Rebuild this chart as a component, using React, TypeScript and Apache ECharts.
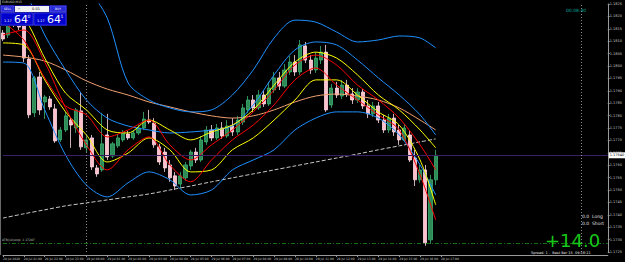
import { useEffect, useRef } from 'react';
import * as echarts from 'echarts';

const symbolTitle = 'EURUSD,M15';
const timeLabels = [
  '28 Jul 2020', '28 Jul 21:00', '28 Jul 22:00', '28 Jul 23:00', '29 Jul 00:00', '29 Jul 01:00',
  '29 Jul 02:00', '29 Jul 03:00', '29 Jul 04:00', '29 Jul 05:00', '29 Jul 06:00', '29 Jul 07:00',
  '29 Jul 08:00', '29 Jul 09:00', '29 Jul 10:00', '29 Jul 11:00', '29 Jul 12:00', '29 Jul 13:00',
  '29 Jul 14:00', '29 Jul 15:00', '29 Jul 16:00', '29 Jul 17:00',
];
const yMin = 1.1725;
const yMax = 1.1825;
const yStep = 0.0005;

// [open, close, low, high]
const candles: number[][] = [
  [1.18133, 1.18109, 1.18101, 1.18145],
  [1.18125, 1.18185, 1.18113, 1.18206],
  [1.18185, 1.18169, 1.18157, 1.18210],
  [1.18165, 1.18157, 1.18145, 1.18185],
  [1.18177, 1.18032, 1.18016, 1.18193],
  [1.18028, 1.17803, 1.17790, 1.18044],
  [1.17811, 1.17952, 1.17794, 1.17960],
  [1.17956, 1.17823, 1.17803, 1.17976],
  [1.17855, 1.17875, 1.17786, 1.17883],
  [1.17867, 1.17835, 1.17823, 1.17879],
  [1.17827, 1.17698, 1.17690, 1.17847],
  [1.17702, 1.17742, 1.17694, 1.17754],
  [1.17742, 1.17799, 1.17734, 1.17815],
  [1.17782, 1.17762, 1.17670, 1.17794],
  [1.17750, 1.17823, 1.17730, 1.17831],
  [1.17819, 1.17674, 1.17662, 1.17895],
  [1.17670, 1.17702, 1.17653, 1.17722],
  [1.17710, 1.17593, 1.17581, 1.17722],
  [1.17589, 1.17565, 1.17553, 1.17601],
  [1.17581, 1.17686, 1.17573, 1.17811],
  [1.17722, 1.17633, 1.17621, 1.17807],
  [1.17637, 1.17686, 1.17629, 1.17694],
  [1.17678, 1.17710, 1.17670, 1.17726],
  [1.17702, 1.17730, 1.17694, 1.17742],
  [1.17726, 1.17710, 1.17702, 1.17738],
  [1.17710, 1.17730, 1.17702, 1.17742],
  [1.17730, 1.17750, 1.17722, 1.17762],
  [1.17750, 1.17786, 1.17742, 1.17815],
  [1.17782, 1.17774, 1.17766, 1.17823],
  [1.17770, 1.17682, 1.17670, 1.17790],
  [1.17674, 1.17613, 1.17601, 1.17686],
  [1.17653, 1.17589, 1.17573, 1.17670],
  [1.17601, 1.17549, 1.17533, 1.17621],
  [1.17557, 1.17516, 1.17500, 1.17573],
  [1.17524, 1.17557, 1.17508, 1.17573],
  [1.17549, 1.17601, 1.17537, 1.17613],
  [1.17597, 1.17653, 1.17581, 1.17662],
  [1.17653, 1.17621, 1.17609, 1.17670],
  [1.17621, 1.17702, 1.17613, 1.17718],
  [1.17694, 1.17742, 1.17682, 1.17758],
  [1.17742, 1.17710, 1.17698, 1.17762],
  [1.17710, 1.17750, 1.17702, 1.17766],
  [1.17750, 1.17718, 1.17706, 1.17774],
  [1.17718, 1.17758, 1.17710, 1.17782],
  [1.17758, 1.17734, 1.17718, 1.17790],
  [1.17734, 1.17782, 1.17722, 1.17799],
  [1.17774, 1.17831, 1.17762, 1.17847],
  [1.17823, 1.17863, 1.17811, 1.17879],
  [1.17863, 1.17831, 1.17815, 1.17883],
  [1.17831, 1.17883, 1.17823, 1.17903],
  [1.17883, 1.17847, 1.17835, 1.17903],
  [1.17847, 1.17911, 1.17839, 1.17936],
  [1.17903, 1.17952, 1.17891, 1.17976],
  [1.17952, 1.17919, 1.17903, 1.17976],
  [1.17919, 1.17984, 1.17911, 1.18008],
  [1.17976, 1.18016, 1.17964, 1.18040],
  [1.18016, 1.17976, 1.17960, 1.18044],
  [1.17976, 1.18085, 1.17964, 1.18105],
  [1.18081, 1.18024, 1.18012, 1.18097],
  [1.18024, 1.17984, 1.17968, 1.18044],
  [1.17984, 1.18032, 1.17972, 1.18056],
  [1.18024, 1.18056, 1.18008, 1.18081],
  [1.18056, 1.17823, 1.17815, 1.18085],
  [1.17843, 1.17911, 1.17831, 1.17927],
  [1.17911, 1.17883, 1.17871, 1.17936],
  [1.17879, 1.17923, 1.17867, 1.17944],
  [1.17923, 1.17887, 1.17875, 1.17944],
  [1.17887, 1.17863, 1.17847, 1.17911],
  [1.17863, 1.17895, 1.17851, 1.17911],
  [1.17895, 1.17839, 1.17827, 1.17907],
  [1.17839, 1.17807, 1.17790, 1.17863],
  [1.17807, 1.17839, 1.17794, 1.17855],
  [1.17839, 1.17782, 1.17770, 1.17855],
  [1.17782, 1.17742, 1.17730, 1.17803],
  [1.17742, 1.17790, 1.17730, 1.17807],
  [1.17790, 1.17734, 1.17718, 1.17807],
  [1.17742, 1.17702, 1.17682, 1.17762],
  [1.17702, 1.17750, 1.17694, 1.17766],
  [1.17722, 1.17621, 1.17613, 1.17742],
  [1.17629, 1.17541, 1.17516, 1.17662],
  [1.17541, 1.17581, 1.17529, 1.17601],
  [1.17581, 1.17287, 1.17275, 1.17601],
  [1.17299, 1.17541, 1.17283, 1.17561],
  [1.17541, 1.17640, 1.17520, 1.17662],
];

// indicator readings taken at these bar indices
const sampleIdx = [0, 4, 8, 12, 16, 20, 24, 28, 32, 36, 40, 44, 48, 52, 56, 60, 64, 68, 72, 76, 80, 83];
const bbOuterUpper = [1.18588, 1.18548, 1.18508, 1.18447, 1.18326, 1.18193, 1.17932, 1.17863, 1.17831, 1.17815, 1.17823, 1.17883, 1.17984, 1.18113, 1.18185, 1.18177, 1.18137, 1.18097, 1.18105, 1.18121, 1.18113, 1.18073];
const bbInnerUpper = [1.18367, 1.18306, 1.18125, 1.17984, 1.17863, 1.17790, 1.17758, 1.17742, 1.17730, 1.17734, 1.17742, 1.17758, 1.17843, 1.17964, 1.18065, 1.18097, 1.18085, 1.18024, 1.17952, 1.17883, 1.17803, 1.17722];
const bbLower = [1.18016, 1.18012, 1.17823, 1.17641, 1.17520, 1.17472, 1.17529, 1.17573, 1.17541, 1.17480, 1.17500, 1.17581, 1.17621, 1.17662, 1.17742, 1.17790, 1.17815, 1.17815, 1.17790, 1.17722, 1.17601, 1.17480];
const maSlow = [1.18044, 1.18036, 1.18020, 1.17984, 1.17940, 1.17907, 1.17883, 1.17855, 1.17835, 1.17815, 1.17799, 1.17790, 1.17799, 1.17823, 1.17855, 1.17879, 1.17887, 1.17879, 1.17863, 1.17831, 1.17782, 1.17742];
const ma200 = [1.17387, 1.17404, 1.17420, 1.17436, 1.17448, 1.17460, 1.17472, 1.17484, 1.17500, 1.17516, 1.17533, 1.17549, 1.17565, 1.17581, 1.17597, 1.17613, 1.17629, 1.17645, 1.17662, 1.17678, 1.17694, 1.17706];
const yellowUpper = [1.18226, 1.18193, 1.18032, 1.17891, 1.17823, 1.17742, 1.17730, 1.17782, 1.17742, 1.17702, 1.17734, 1.17762, 1.17823, 1.17923, 1.18016, 1.18056, 1.18032, 1.17964, 1.17883, 1.17823, 1.17742, 1.17670];
const yellowLower = [1.18093, 1.18085, 1.17944, 1.17815, 1.17722, 1.17613, 1.17649, 1.17710, 1.17662, 1.17573, 1.17581, 1.17662, 1.17710, 1.17782, 1.17863, 1.17944, 1.17944, 1.17883, 1.17815, 1.17762, 1.17621, 1.17440];
const redUpper = [1.18177, 1.18105, 1.17952, 1.17839, 1.17803, 1.17714, 1.17742, 1.17782, 1.17682, 1.17621, 1.17682, 1.17742, 1.17815, 1.17903, 1.18004, 1.18044, 1.18004, 1.17923, 1.17863, 1.17790, 1.17682, 1.17581];
const redLower = [1.18125, 1.18145, 1.18016, 1.17831, 1.17682, 1.17581, 1.17662, 1.17714, 1.17601, 1.17533, 1.17621, 1.17702, 1.17762, 1.17843, 1.17944, 1.17992, 1.17923, 1.17863, 1.17803, 1.17742, 1.17561, 1.17379];

const atrStop = 1.17287;
const bidDigits = '64';
const bidPoint = '0';
const askPoint = '1';
const lotSize = '0.01';
const timerText = '00:08:40';
const longText = '0.0  Long';
const shortText = '0.0  Short';
const profitText = '+14.0';
const spreadText = 'Spread: 1 .  Best Bar 15  09:18:11';
const separatorBars = ['16', '111'];
const totalSlots = 117;

export default function App() {
  const ref = useRef<HTMLDivElement>(null);
  useEffect(() => {
    const chart = echarts.init(ref.current!, null, { renderer: 'svg' });
    const cats = Array.from({ length: totalSlots }, (_, i) => String(i));
    const place = (vals: number[]) => {
      const arr: (number | null)[] = new Array(candles.length).fill(null);
      sampleIdx.forEach((k, j) => { arr[k] = vals[j]; });
      return arr;
    };
    const lastClose = candles[candles.length - 1][1];
    const showTick = (i: number) => i % 4 === 0 && i / 4 < timeLabels.length;
    const ln = (vals: number[], color: string, extra: any = {}) => ({
      type: 'line', data: place(vals), connectNulls: true, showSymbol: false, smooth: 0.3,
      lineStyle: { color, width: 1, ...extra }, silent: true, z: 3,
    });
    const font = 'DejaVu Sans';
    const txt = (x: number, y: number, text: string, fontSize: number, fill: string, align = 'left', va = 'top') => ({
      type: 'text', x, y, silent: true, z: 20,
      style: { text, fill, fontSize, fontFamily: font, align, verticalAlign: va, textAlign: align, textVerticalAlign: va },
    });
    chart.setOption({
      animation: false,
      backgroundColor: '#000000',
      textStyle: { fontFamily: font },
      grid: { left: 1, right: 15, top: 4, bottom: 10 },
      xAxis: {
        type: 'category', data: cats, boundaryGap: false, offset: 3,
        axisLine: { lineStyle: { color: '#9a9a9a', width: 1 } },
        axisTick: { show: true, length: 2, interval: (i: number) => showTick(i), lineStyle: { color: '#9a9a9a' } },
        axisLabel: {
          interval: (i: number) => showTick(i),
          formatter: (_v: string, i: number) => timeLabels[i / 4] ?? '',
          align: 'left', fontSize: 3, color: '#c8c8c8', margin: 2,
        },
        splitLine: { show: false },
      },
      yAxis: {
        type: 'value', position: 'right', min: yMin, max: yMax, interval: yStep,
        axisLine: { show: true, lineStyle: { color: '#9a9a9a' } },
        axisTick: { show: true, length: 2, lineStyle: { color: '#9a9a9a' } },
        axisLabel: { fontSize: 3.5, color: '#c8c8c8', margin: 2, formatter: (v: number) => v.toFixed(4) },
        splitLine: { show: false },
      },
      series: [
        {
          type: 'line', data: [], silent: true, z: 1,
          markLine: {
            symbol: 'none', silent: true, animation: false, precision: 6,
            data: [
              {
                yAxis: lastClose, lineStyle: { color: '#3c1e64', type: 'solid', width: 1 },
                label: { show: true, position: 'end', formatter: lastClose.toFixed(5), backgroundColor: '#ffffff', color: '#000000', fontSize: 3.5, padding: [1, 1], distance: 1 },
              },
              { yAxis: atrStop, lineStyle: { color: '#127012', type: [4, 2, 1, 2], width: 1 }, label: { show: false } },
              ...separatorBars.map((b) => ({ xAxis: b, lineStyle: { color: '#8a8a8a', type: [1, 2], width: 1 }, label: { show: false } })),
            ],
          },
        },
        {
          type: 'candlestick', data: candles, barWidth: 3.6, z: 2,
          itemStyle: { color: '#2e8b57', color0: '#ffc0cb', borderColor: '#3cb371', borderColor0: '#ffdce4', borderWidth: 0.8 },
        },
        ln(ma200, '#c8c8c8', { type: [4, 2] }),
        ln(maSlow, '#f0a070'),
        ln(bbOuterUpper, '#1e90ff'),
        ln(bbInnerUpper, '#1e90ff'),
        ln(bbLower, '#1e90ff'),
        ln(yellowUpper, '#ffff00'),
        ln(yellowLower, '#ffff00'),
        ln(redUpper, '#ff0000'),
        ln(redLower, '#ff0000'),
      ],
      graphic: [
        { type: 'line', shape: { x1: 0.5, y1: 0, x2: 0.5, y2: 255 }, style: { stroke: '#6a6a6a', lineWidth: 1 }, z: 10, silent: true },
        txt(2, 0.5, symbolTitle, 3, '#d0d0d0'),
        { type: 'rect', shape: { x: 0, y: 5, width: 67, height: 21 }, style: { fill: '#0c0c8c' }, z: 15, silent: true },
        { type: 'rect', shape: { x: 1, y: 6, width: 13, height: 6 }, style: { fill: '#2b2bd6', stroke: '#6a6aff', lineWidth: 0.5 }, z: 16, silent: true },
        txt(7.5, 9, 'SELL', 3, '#ffffff', 'center', 'middle'),
        { type: 'rect', shape: { x: 15, y: 6, width: 34, height: 6 }, style: { fill: '#f2f2f2' }, z: 16, silent: true },
        txt(19, 9, '−', 3.5, '#000000', 'center', 'middle'),
        txt(36, 9, lotSize, 3.5, '#000000', 'center', 'middle'),
        { type: 'rect', shape: { x: 50, y: 6, width: 16, height: 6 }, style: { fill: '#2b2bd6', stroke: '#6a6aff', lineWidth: 0.5 }, z: 16, silent: true },
        txt(58, 9, 'BUY', 3, '#ffffff', 'center', 'middle'),
        { type: 'rect', shape: { x: 1, y: 13, width: 32, height: 12 }, style: { fill: '#0000cc', stroke: '#5a5aff', lineWidth: 0.5 }, z: 16, silent: true },
        { type: 'rect', shape: { x: 34, y: 13, width: 32, height: 12 }, style: { fill: '#0000cc', stroke: '#5a5aff', lineWidth: 0.5 }, z: 16, silent: true },
        txt(4, 22.5, '1.17', 3.5, '#ffffff', 'left', 'bottom'),
        txt(14, 25, bidDigits, 11, '#ffffff', 'left', 'bottom'),
        txt(27.5, 14, bidPoint, 4.5, '#ffffff'),
        txt(37, 22.5, '1.17', 3.5, '#ffffff', 'left', 'bottom'),
        txt(47, 25, bidDigits, 11, '#ffffff', 'left', 'bottom'),
        txt(60.5, 14, askPoint, 4.5, '#ffffff'),
        txt(566, 8, timerText, 4.5, '#00a8a0'),
        txt(582, 214, longText, 4.5, '#e0e0e0'),
        txt(582, 221, shortText, 4.5, '#e0e0e0'),
        txt(545, 231, profitText, 18, '#18c818'),
        txt(531, 251, spreadText, 3.5, '#e0e0e0'),
        txt(2, 238.5, 'ATR(14)stop: ' + atrStop.toFixed(5), 3, '#c0c0c0'),
      ],
    });
    return () => chart.dispose();
  }, []);
  return <div ref={ref} style={{ position: 'fixed', left: 0, top: 0, width: 625, height: 262 }} />;
}
